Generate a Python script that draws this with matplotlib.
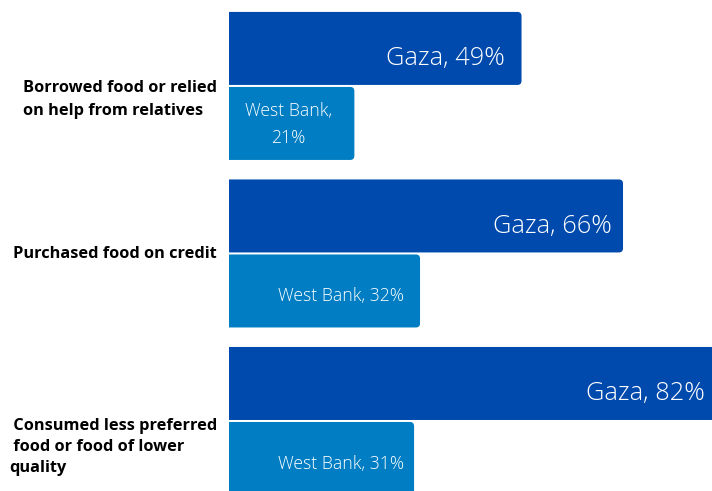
import matplotlib
matplotlib.use("Agg")
import matplotlib.pyplot as plt
from matplotlib.patches import FancyBboxPatch
import numpy as np

categories = ["Borrowed food or relied\non help from relatives",
              "Purchased food on credit",
              " Consumed less preferred\n food or food of lower\nquality"]
gaza = [49, 66, 82]
west_bank = [21, 32, 31]
gaza_labels = ["Gaza, 49%", "Gaza, 66%", "Gaza, 82%"]
wb_labels = ["West Bank,\n21%", "West Bank, 32%", "West Bank, 31%"]

GAZA_C = "#004AAD"
WB_C = "#007DC3"

PX_X = 5.97    # pixels per percentage point
PX_Y = 167.5   # pixels per category step

fig = plt.figure(figsize=(7.12, 4.91), dpi=100)
ax = fig.add_axes([229/712, 0, 1 - 229/712, 1])
ax.set_xlim(0, (712 - 229) / PX_X)
ax.set_ylim(2.418, -0.513)
ax.axis("off")

y = np.arange(len(categories))
h = 73 / PX_Y
off = 37.5 / PX_Y

def rounded(bars, color):
    for b in bars:
        b.set_visible(False)
        x0, y0 = b.get_x(), b.get_y()
        w, hh = b.get_width(), b.get_height()
        p = FancyBboxPatch((x0 - 2, y0), w + 2, hh,
                           boxstyle="round,pad=0,rounding_size=0.7",
                           mutation_aspect=PX_X / PX_Y,
                           facecolor=color, edgecolor="none", clip_on=True)
        ax.add_patch(p)

gb = ax.barh(y - off, gaza, height=h, color=GAZA_C)
wb = ax.barh(y + off, west_bank, height=h, color=WB_C)
rounded(gb, GAZA_C)
rounded(wb, WB_C)

fam = ["Open Sans", "DejaVu Sans"]
gaza_pad = [2.85, 1.95, 2.3]
for i in range(len(categories)):
    ax.text(gaza[i] - gaza_pad[i], y[i] - off + 0.06, gaza_labels[i], ha="right", va="center",
            color="white", fontsize=18.3, family=fam, fontweight="light", clip_on=False)
    if "\n" in wb_labels[i]:
        ax.text(west_bank[i] / 2 - 0.5, y[i] + off + 0.006, wb_labels[i], ha="center", va="center",
                color="white", fontsize=12.7, family=fam, fontweight="light",
                linespacing=1.68)
    else:
        ax.text((404 - 229) / PX_X, y[i] + off + 0.03, wb_labels[i], ha="right", va="center",
                color="white", fontsize=12.7, family=fam, fontweight="light")

label_off = [0.08, 0.005, 0.157]
label_ls = [1.6, 1.6, 1.4]
for i, c in enumerate(categories):
    ax.text(-12 / PX_X, y[i] + label_off[i], c, ha="right", va="center",
            multialignment="left", fontsize=11.8, fontweight="bold",
            family=fam, color="black", linespacing=label_ls[i], clip_on=False)

fig.savefig("out.png", dpi=100)
